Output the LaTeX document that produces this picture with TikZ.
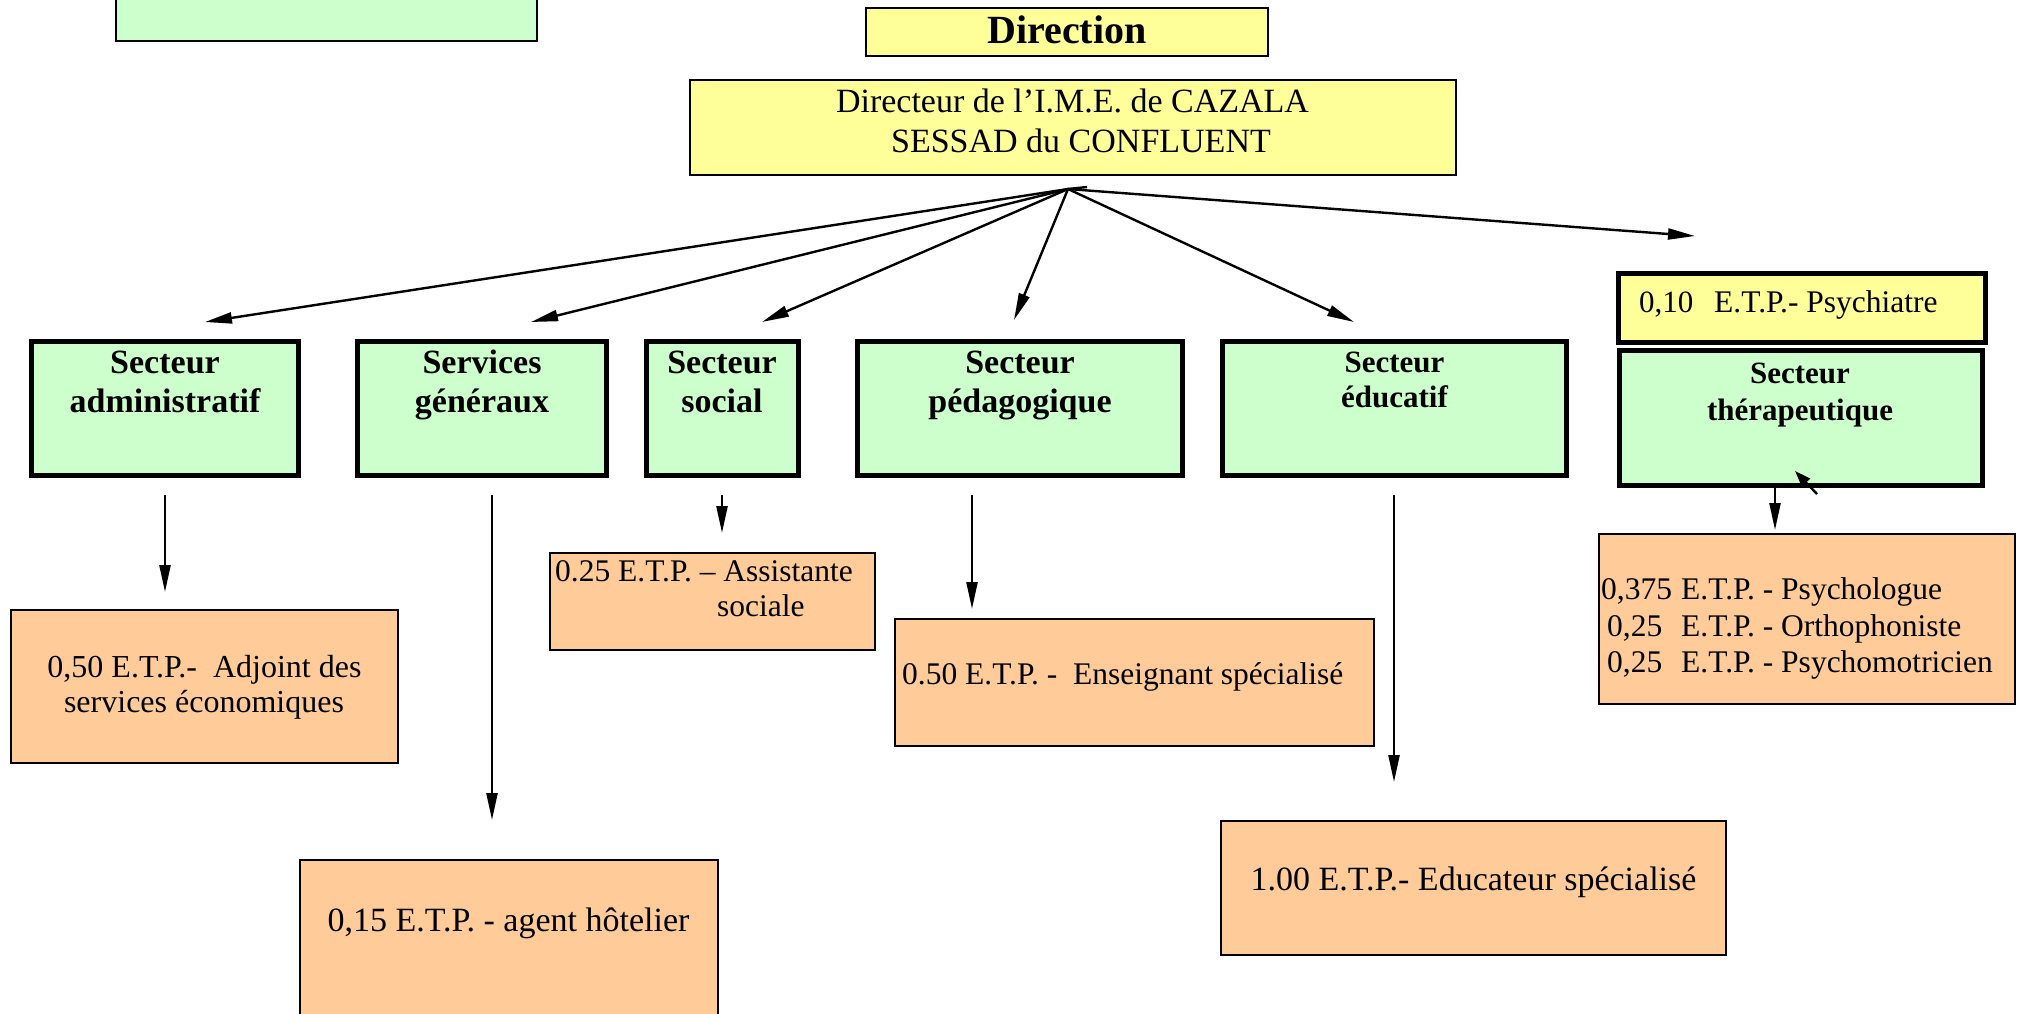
\documentclass[tikz,border=0pt]{standalone}
\usepackage{fontspec}
\setmainfont{Liberation Serif}
\usetikzlibrary{arrows.meta,fit}
\definecolor{gfill}{RGB}{204,255,204}
\definecolor{yfill}{RGB}{255,255,153}
\definecolor{ofill}{RGB}{255,204,153}
\begin{document}
\begin{tikzpicture}[x=1pt,y=-1pt,
  thickbox/.style={draw=black, line width=5pt, inner sep=0pt, outer sep=0pt},
  thinbox/.style={draw=black, line width=2pt, inner sep=0pt, outer sep=0pt},
  gthick/.style={thickbox, fill=gfill},
  gthin/.style={thinbox, fill=gfill},
  ythick/.style={thickbox, fill=yfill},
  ythin/.style={thinbox, fill=yfill, line width=2.5pt},
  othin/.style={thinbox, fill=ofill},
  conn/.style={line width=2.4pt, -{Triangle[length=27pt,width=11pt]}},
  smallconn/.style={line width=2.4pt, -{Triangle[length=16pt,width=11pt]}},
  fa/.style={inner sep=0pt, font=\fontsize{31}{37}\selectfont},
  fd/.style={inner sep=0pt, font=\fontsize{31.5}{37}\selectfont},
  fb/.style={inner sep=0pt, font=\fontsize{32}{37}\selectfont},
  fc/.style={inner sep=0pt, font=\fontsize{34}{40}\selectfont},
  ba/.style={inner sep=0pt, font=\bfseries\fontsize{34}{40}\selectfont},
  bb/.style={inner sep=0pt, font=\bfseries\fontsize{31}{37}\selectfont},
  bc/.style={inner sep=0pt, font=\bfseries\fontsize{40}{46}\selectfont}]
\clip (0,0) rectangle (2024,1013);
\fill[white] (0,0) rectangle (2024,1013);

% boxes
\node[gthin, fit={(116,-10) (537,41)}] (topleft) {};
\node[ythin, fit={(866,8) (1268,56)}] (direction) {};
\node[ythin, fit={(690,80) (1456,175)}] (directeur) {};

\node[gthick, fit={(31.5,341.5) (298.5,475.5)}] (admin) {};
\node[gthick, fit={(357.5,341.5) (606.5,475.5)}] (services) {};
\node[gthick, fit={(646.5,341.5) (798.5,475.5)}] (social) {};
\node[gthick, fit={(857.5,341.5) (1182.5,475.5)}] (pedago) {};
\node[gthick, fit={(1222.5,341.5) (1566.5,475.5)}] (educ) {};
\node[ythick, fit={(1618.5,273.5) (1985.5,342.5)}] (psychiatre) {};
\node[gthick, fit={(1619.5,350.5) (1982.5,485.5)}] (therap) {};

\node[othin, fit={(11,610) (398,763)}] (oadmin) {};
\node[othin, fit={(300,860) (718,1100)}] (ohotel) {};
\node[othin, fit={(550,553) (875,650)}] (osocial) {};
\node[othin, fit={(895,619) (1374,746)}] (opedago) {};
\node[othin, fit={(1221,821) (1726,955)}] (oeduc) {};
\node[othin, fit={(1599,534) (2015,704)}] (opsych) {};

% texts
\node[bc, anchor=base] (tdir) at (1067,43) {Direction};
\node[fc, anchor=base] (tdir1) at (1072.5,112) {Directeur de l’I.M.E. de CAZALA};
\node[fc, anchor=base] (tdir2) at (1081,152) {SESSAD du CONFLUENT};

\node[ba, anchor=base] (tadm1) at (165,373) {Secteur};
\node[ba, anchor=base] (tadm2) at (165,412) {administratif};
\node[ba, anchor=base] (tser1) at (482,373) {Services};
\node[ba, anchor=base] (tser2) at (482,412) {généraux};
\node[ba, anchor=base] (tsoc1) at (722,373) {Secteur};
\node[ba, anchor=base] (tsoc2) at (722,412) {social};
\node[ba, anchor=base] (tped1) at (1020,373) {Secteur};
\node[ba, anchor=base] (tped2) at (1020,412) {pédagogique};
\node[bb, anchor=base] (tedu1) at (1394.5,372) {Secteur};
\node[bb, anchor=base] (tedu2) at (1394.5,407) {éducatif};
\node[bb, anchor=base] (tthe1) at (1800,383) {Secteur};
\node[bb, anchor=base] (tthe2) at (1800,420) {thérapeutique};

\node[fa, anchor=base west] (tpsy0) at (1639,312) {0,10};
\node[fd, anchor=base west] (tpsy1) at (1714,312) {E.T.P.- Psychiatre};

\node[fb, anchor=base] (toadm1) at (204.5,677) {0,50 E.T.P.-\ \ Adjoint des};
\node[fb, anchor=base] (toadm2) at (204,712) {services économiques};
\node[fc, anchor=base] (tohot) at (508.5,931) {0,15 E.T.P. - agent hôtelier};
\node[fd, anchor=base west] (tosoc1) at (555,581) {0.25 E.T.P. – Assistante};
\node[fd, anchor=base west] (tosoc2) at (717,616) {sociale};
\node[fd, anchor=base west] (toped) at (902,684) {0.50 E.T.P. -\ \ Enseignant spécialisé};
\node[fc, anchor=base] (toedu) at (1473.5,890) {1.00 E.T.P.- Educateur spécialisé};
\node[fd, anchor=base west] (tops1a) at (1601,599) {0,375};
\node[fd, anchor=base west] (tops1b) at (1681,599) {E.T.P. - Psychologue};
\node[fd, anchor=base west] (tops2a) at (1607,636) {0,25};
\node[fd, anchor=base west] (tops2b) at (1681,636) {E.T.P. - Orthophoniste};
\node[fd, anchor=base west] (tops3a) at (1607,672) {0,25};
\node[fd, anchor=base west] (tops3b) at (1681,672) {E.T.P. - Psychomotricien};

% connector points
\coordinate (orig) at (1068,189);
\coordinate (stub) at (1087,187);
\coordinate (tA) at (205,322);
\coordinate (tS) at (531,322);
\coordinate (tSo) at (762,322);
\coordinate (tP) at (1014,320);
\coordinate (tE) at (1354,322);
\coordinate (tPs) at (1695,236);

\coordinate (vA1) at (165,495);   \coordinate (vA2) at (165,592);
\coordinate (vS1) at (492,495);   \coordinate (vS2) at (492,820);
\coordinate (vSo1) at (722,495);  \coordinate (vSo2) at (722,533);
\coordinate (vP1) at (972,495);   \coordinate (vP2) at (972,609);
\coordinate (vE1) at (1394,495);  \coordinate (vE2) at (1394,782);
\coordinate (vT1) at (1775,488);  \coordinate (vT2) at (1775,530);
\coordinate (sm1) at (1817,494);  \coordinate (sm2) at (1795,471);

% connectors
\draw[conn] (orig) -- (tA);
\draw[conn] (orig) -- (tS);
\draw[conn] (orig) -- (tSo);
\draw[conn] (orig) -- (tP);
\draw[conn] (orig) -- (tE);
\draw[conn] (orig) -- (tPs);
\draw[line width=2.4pt] (orig) -- (stub);

\draw[conn] (vA1) -- (vA2);
\draw[conn] (vS1) -- (vS2);
\draw[conn] (vSo1) -- (vSo2);
\draw[conn] (vP1) -- (vP2);
\draw[conn] (vE1) -- (vE2);
\draw[conn] (vT1) -- (vT2);
\draw[smallconn] (sm1) -- (sm2);
\end{tikzpicture}
\end{document}
